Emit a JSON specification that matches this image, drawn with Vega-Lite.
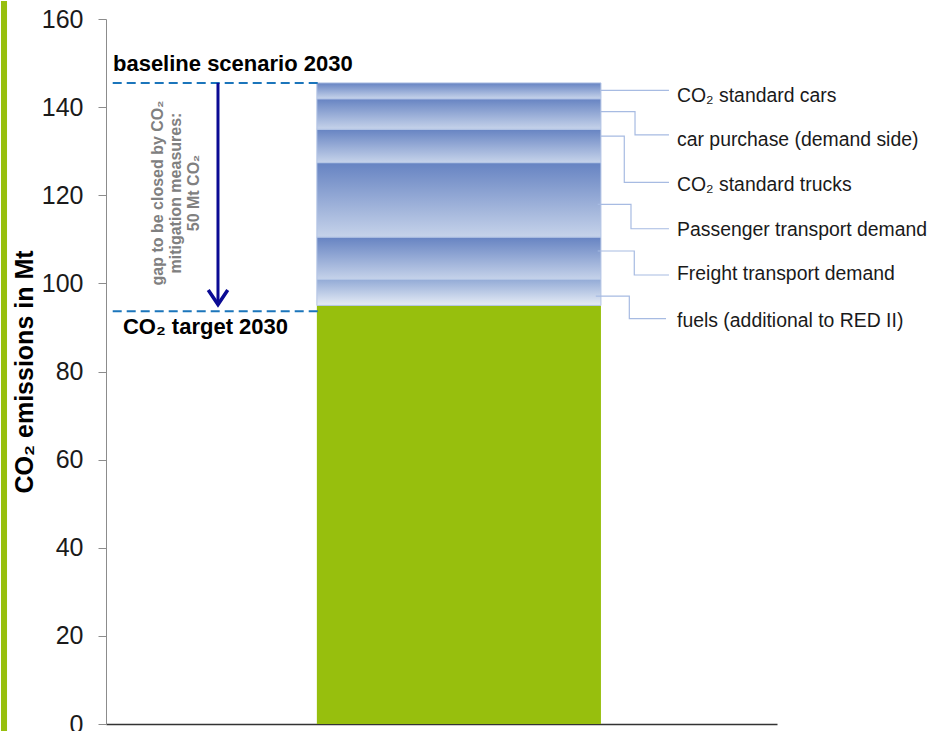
{
  "$schema": "https://vega.github.io/schema/vega-lite/v6.json",
  "width": 671,
  "height": 705,
  "padding": 0,
  "autosize": {"type": "pad"},
  "background": "white",
  "config": {
    "font": "Liberation Sans",
    "view": {"stroke": null},
    "axis": {"grid": false}
  },
  "resolve": {"scale": {"x": "independent"}, "axis": {"y": "shared"}},
  "layer": [
    {
      "data": {"values": [
        {"scenario": "2030", "component": "CO₂ target level", "kind": "base", "from": 0, "to": 95},
        {"scenario": "2030", "component": "fuels (additional to RED II)", "kind": "fuels", "from": 95, "to": 100.9},
        {"scenario": "2030", "component": "Freight transport demand", "kind": "measure", "from": 100.9, "to": 110.5},
        {"scenario": "2030", "component": "Passenger transport demand", "kind": "measure", "from": 110.5, "to": 127.4},
        {"scenario": "2030", "component": "CO₂ standard trucks", "kind": "measure", "from": 127.4, "to": 135.0},
        {"scenario": "2030", "component": "car purchase (demand side)", "kind": "measure", "from": 135.0, "to": 141.9},
        {"scenario": "2030", "component": "CO₂ standard cars", "kind": "measure", "from": 141.9, "to": 145.5}
      ]},
      "encoding": {
        "x": {
          "field": "scenario", "type": "nominal",
          "scale": {"paddingInner": 0, "paddingOuter": 0.681, "align": 0.545},
          "axis": {"labels": false, "ticks": false, "title": null, "domainColor": "#333333", "domainWidth": 1.5}
        },
        "y": {
          "field": "from", "type": "quantitative",
          "scale": {"domain": [0, 160], "nice": false, "zero": false},
          "title": "CO₂ emissions in Mt",
          "axis": {
            "values": [0, 20, 40, 60, 80, 100, 120, 140, 160],
            "labelFontSize": 25, "labelColor": "#1a1a1a", "labelPadding": 15,
            "tickSize": 8, "tickColor": "#8c8c8c", "domainColor": "#8c8c8c",
            "titleFontSize": 25, "titleFontWeight": "bold", "titleColor": "#000000", "titlePadding": 4
          }
        },
        "y2": {"field": "to"}
      },
      "layer": [
        {"transform": [{"filter": "datum.kind === 'base'"}], "mark": {"type": "bar", "color": "#97BF0D"}},
        {"transform": [{"filter": "datum.kind === 'fuels'"}], "mark": {"type": "bar", "stroke": "#b3c4e5", "strokeWidth": 1,
          "color": {"gradient": "linear", "x1": 0, "y1": 0, "x2": 0, "y2": 1, "stops": [{"offset": 0, "color": "#93abd6"}, {"offset": 1, "color": "#e6ecf6"}]}}},
        {"transform": [{"filter": "datum.kind === 'measure'"}], "mark": {"type": "bar", "stroke": "#b3c4e5", "strokeWidth": 1,
          "color": {"gradient": "linear", "x1": 0, "y1": 0, "x2": 0, "y2": 1, "stops": [{"offset": 0, "color": "#6683c2"}, {"offset": 1, "color": "#c6d3ea"}]}}}
      ]
    },
    {
      "layer": [
        {
          "data": {"values": [{}]},
          "mark": {"type": "rect", "color": "#97BF0D"},
          "encoding": {
            "x": {"datum": -15.65, "type": "quantitative", "scale": {"domain": [0, 100], "nice": false, "zero": false}, "axis": null},
            "x2": {"datum": -14.75},
            "y": {"datum": -1.85, "type": "quantitative", "scale": {"domain": [0, 160], "nice": false, "zero": false}},
            "y2": {"datum": 164.09}
          }
        },
        {
          "data": {"values": [
            {"line": "baseline scenario 2030", "level": 145.5},
            {"line": "CO₂ target 2030", "level": 93.7}
          ]},
          "mark": {"type": "rule", "color": "#1b75bb", "strokeWidth": 2, "strokeDash": [9, 5]},
          "encoding": {
            "x": {"datum": 1.0, "type": "quantitative", "scale": {"domain": [0, 100], "nice": false, "zero": false}, "axis": null},
            "x2": {"datum": 31.6},
            "y": {"field": "level", "type": "quantitative", "scale": {"domain": [0, 160], "nice": false, "zero": false}}
          }
        },
        {
          "data": {"values": [{"from": 145.5, "to": 95.6}]},
          "mark": {"type": "rule", "color": "#0b0b94", "strokeWidth": 3},
          "encoding": {
            "x": {"datum": 16.69, "type": "quantitative", "scale": {"domain": [0, 100], "nice": false, "zero": false}, "axis": null},
            "y": {"field": "from", "type": "quantitative", "scale": {"domain": [0, 160], "nice": false, "zero": false}},
            "y2": {"field": "to"}
          }
        },
        {
          "data": {"values": [{"tip": 95.2}]},
          "mark": {"type": "point", "shape": "M-1,-1.5L0,0L1,-1.5", "size": 380, "filled": false, "stroke": "#0b0b94", "strokeWidth": 3.5, "opacity": 1, "strokeJoin": "miter"},
          "encoding": {
            "x": {"datum": 16.69, "type": "quantitative", "scale": {"domain": [0, 100], "nice": false, "zero": false}, "axis": null},
            "y": {"field": "tip", "type": "quantitative", "scale": {"domain": [0, 160], "nice": false, "zero": false}}
          }
        },
        {
          "data": {"values": [{"note": "baseline scenario 2030"}]},
          "mark": {"type": "text", "align": "left", "baseline": "alphabetic", "fontSize": 22, "fontWeight": "bold", "color": "#000000"},
          "encoding": {
            "x": {"datum": 1.04, "type": "quantitative", "scale": {"domain": [0, 100], "nice": false, "zero": false}, "axis": null},
            "y": {"datum": 148.2, "type": "quantitative", "scale": {"domain": [0, 160], "nice": false, "zero": false}},
            "text": {"field": "note"}
          }
        },
        {
          "data": {"values": [{"note": "CO₂ target 2030"}]},
          "mark": {"type": "text", "align": "left", "baseline": "alphabetic", "fontSize": 22, "fontWeight": "bold", "color": "#000000"},
          "encoding": {
            "x": {"datum": 2.53, "type": "quantitative", "scale": {"domain": [0, 100], "nice": false, "zero": false}, "axis": null},
            "y": {"datum": 88.5, "type": "quantitative", "scale": {"domain": [0, 160], "nice": false, "zero": false}},
            "text": {"field": "note"}
          }
        },
        {
          "data": {"values": [{"note": "gap to be closed by CO₂\nmitigation measures:\n50 Mt CO₂"}]},
          "mark": {"type": "text", "align": "center", "baseline": "middle", "angle": 270, "lineBreak": "\n", "lineHeight": 18, "fontSize": 16, "fontWeight": "bold", "color": "#808080"},
          "encoding": {
            "x": {"datum": 7.75, "type": "quantitative", "scale": {"domain": [0, 100], "nice": false, "zero": false}, "axis": null},
            "y": {"datum": 120.5, "type": "quantitative", "scale": {"domain": [0, 160], "nice": false, "zero": false}},
            "text": {"field": "note"}
          }
        },
        {
          "data": {"values": [
            {"measure": "CO₂ standard cars", "step": 1, "px": 73.77, "py": 143.8},
            {"measure": "CO₂ standard cars", "step": 2, "px": 83.9, "py": 143.8},
            {"measure": "car purchase (demand side)", "step": 1, "px": 73.77, "py": 138.97},
            {"measure": "car purchase (demand side)", "step": 2, "px": 78.84, "py": 138.97},
            {"measure": "car purchase (demand side)", "step": 3, "px": 78.84, "py": 133.7},
            {"measure": "car purchase (demand side)", "step": 4, "px": 83.9, "py": 133.7},
            {"measure": "CO₂ standard trucks", "step": 1, "px": 73.77, "py": 133.4},
            {"measure": "CO₂ standard trucks", "step": 2, "px": 77.24, "py": 133.4},
            {"measure": "CO₂ standard trucks", "step": 3, "px": 77.24, "py": 122.9},
            {"measure": "CO₂ standard trucks", "step": 4, "px": 83.9, "py": 122.9},
            {"measure": "Passenger transport demand", "step": 1, "px": 73.28, "py": 117.95},
            {"measure": "Passenger transport demand", "step": 2, "px": 78.24, "py": 117.95},
            {"measure": "Passenger transport demand", "step": 3, "px": 78.24, "py": 112.4},
            {"measure": "Passenger transport demand", "step": 4, "px": 83.9, "py": 112.4},
            {"measure": "Freight transport demand", "step": 1, "px": 73.28, "py": 107.35},
            {"measure": "Freight transport demand", "step": 2, "px": 78.73, "py": 107.35},
            {"measure": "Freight transport demand", "step": 3, "px": 78.73, "py": 101.9},
            {"measure": "Freight transport demand", "step": 4, "px": 83.9, "py": 101.9},
            {"measure": "fuels (additional to RED II)", "step": 1, "px": 73.0, "py": 97.1},
            {"measure": "fuels (additional to RED II)", "step": 2, "px": 77.99, "py": 97.1},
            {"measure": "fuels (additional to RED II)", "step": 3, "px": 77.99, "py": 92.0},
            {"measure": "fuels (additional to RED II)", "step": 4, "px": 83.46, "py": 92.0}
          ]},
          "mark": {"type": "line", "color": "#a7bbe2", "strokeWidth": 1.2, "interpolate": "linear"},
          "encoding": {
            "x": {"field": "px", "type": "quantitative", "scale": {"domain": [0, 100], "nice": false, "zero": false}, "axis": null},
            "y": {"field": "py", "type": "quantitative", "scale": {"domain": [0, 160], "nice": false, "zero": false}},
            "detail": {"field": "measure"},
            "order": {"field": "step"}
          }
        },
        {
          "data": {"values": [
            {"label": "CO₂ standard cars", "at": 142.6},
            {"label": "car purchase (demand side)", "at": 132.5},
            {"label": "CO₂ standard trucks", "at": 122.3},
            {"label": "Passenger transport demand", "at": 112.1},
            {"label": "Freight transport demand", "at": 102.1},
            {"label": "fuels (additional to RED II)", "at": 91.5}
          ]},
          "mark": {"type": "text", "align": "left", "baseline": "middle", "fontSize": 19.4, "color": "#1a1a1a"},
          "encoding": {
            "x": {"datum": 85.1, "type": "quantitative", "scale": {"domain": [0, 100], "nice": false, "zero": false}, "axis": null},
            "y": {"field": "at", "type": "quantitative", "scale": {"domain": [0, 160], "nice": false, "zero": false}},
            "text": {"field": "label"}
          }
        }
      ]
    }
  ]
}
